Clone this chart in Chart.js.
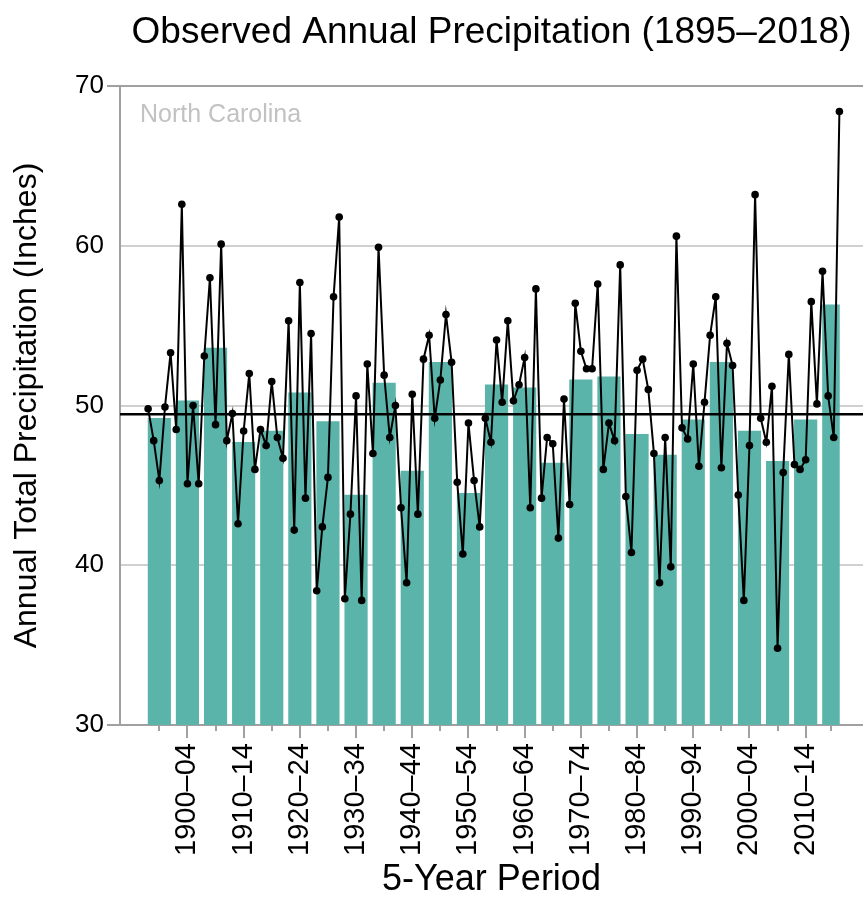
<!DOCTYPE html>
<html>
<head>
<meta charset="utf-8">
<title>Observed Annual Precipitation</title>
<script src="https://cdn.jsdelivr.net/npm/chart.js@4.4.1/dist/chart.umd.min.js"></script>
<style>
  html, body { margin: 0; padding: 0; background: #fff; }
  canvas { display: block; }
</style>
</head>
<body>
<canvas id="precipChart" width="863" height="902"></canvas>
<script>
// annual totals, inches, 1895 onwards
const firstYear = 1895;
const annualPrecip = [
  49.8, 47.8, 45.3, 49.9, 53.3,
  48.5, 62.6, 45.1, 50.0, 45.1,
  53.1, 58.0, 48.8, 60.1, 47.8,
  49.5, 42.6, 48.4, 52.0, 46.0,
  48.5, 47.5, 51.5, 48.0, 46.7,
  55.3, 42.2, 57.7, 44.2, 54.5,
  38.4, 42.4, 45.5, 56.8, 61.8,
  37.9, 43.2, 50.6, 37.8, 52.6,
  47.0, 59.9, 51.9, 48.0, 50.0,
  43.6, 38.9, 50.7, 43.2, 52.9,
  54.4, 49.2, 51.6, 55.7, 52.7,
  45.2, 40.7, 48.9, 45.3, 42.4,
  49.2, 47.7, 54.1, 50.2, 55.3,
  50.3, 51.3, 53.0, 43.6, 57.3,
  44.2, 48.0, 47.6, 41.7, 50.4,
  43.8, 56.4, 53.4, 52.3, 52.3,
  57.6, 46.0, 48.9, 47.8, 58.8,
  44.3, 40.8, 52.2, 52.9, 51.0,
  47.0, 38.9, 48.0, 39.9, 60.6,
  48.6, 47.9, 52.6, 46.2, 50.2,
  54.4, 56.8, 46.1, 53.9, 52.5,
  44.4, 37.8, 47.5, 63.2, 49.2,
  47.7, 51.2, 34.8, 45.8, 53.2,
  46.3, 46.0, 46.6, 56.5, 50.1,
  58.4, 50.6, 48.0, 68.4
];

const periodLabels = [
  '1895–99', '1900–04', '1905–09', '1910–14', '1915–19',
  '1920–24', '1925–29', '1930–34', '1935–39', '1940–44',
  '1945–49', '1950–54', '1955–59', '1960–64', '1965–69',
  '1970–74', '1975–79', '1980–84', '1985–89', '1990–94',
  '1995–99', '2000–04', '2005–09', '2010–14', '2015–18'
];

const periodAvg = [
  49.2, 50.3, 53.6, 47.7, 48.4,
  50.8, 49.0, 44.4, 51.4, 45.9,
  52.7, 44.5, 51.3, 51.1, 46.4,
  51.6, 51.8, 48.2, 46.9, 49.1,
  52.7, 48.4, 46.5, 49.1, 56.3
];

const longTermAvg = 49.45;
const stateName = 'North Carolina';

const xMin = 1890, xMax = 2022.2;
const fontFamily = '"Liberation Sans", Arial, Helvetica, sans-serif';

const years = annualPrecip.map((v, i) => firstYear + i);

// each bar runs from the first to the last year of its period
const periodCentres = periodLabels.map(label => {
  const start = parseInt(label.slice(0, 4));
  const end = Math.floor(start / 100) * 100 + parseInt(label.slice(5));
  return (start + end) / 2;
});

const lastIdx = periodLabels.length - 1;
const fullBars = periodAvg.slice(0, lastIdx).map((v, i) => ({ x: periodCentres[i], y: v }));
const partBar = [{ x: periodCentres[lastIdx], y: periodAvg[lastIdx] }];

Chart.defaults.font.family = fontFamily;
Chart.defaults.color = '#000';

const edgeTick = v => v === 30 || v === 70;

const axisExtras = {
  id: 'axisExtras',
  afterDatasetsDraw(chart) {
    const { ctx, chartArea, scales: { x } } = chart;
    ctx.save();
    ctx.strokeStyle = '#a0a0a0';
    ctx.lineWidth = 2;
    x.ticks.forEach((t, i) => {
      const px = Math.round(x.getPixelForValue(t.value));
      const len = i % 2 === 1 ? 13 : 6;
      ctx.beginPath();
      ctx.moveTo(px, chartArea.bottom);
      ctx.lineTo(px, chartArea.bottom + len);
      ctx.stroke();
    });
    ctx.fillStyle = '#c2c2c2';
    ctx.font = '25px ' + fontFamily;
    ctx.textBaseline = 'alphabetic';
    ctx.fillText(stateName, chartArea.left + 20, chartArea.top + 36);
    ctx.restore();
  }
};

new Chart(document.getElementById('precipChart'), {
  type: 'bar',
  data: {
    datasets: [
      {
        type: 'line',
        label: 'Annual',
        data: annualPrecip.map((v, i) => ({ x: years[i], y: v })),
        borderColor: '#000',
        borderWidth: 2,
        pointRadius: 3.8,
        pointBackgroundColor: '#000',
        pointBorderWidth: 0,
        tension: 0,
        order: 0
      },
      {
        type: 'line',
        label: 'Long-term average',
        data: [{ x: xMin, y: longTermAvg }, { x: xMax, y: longTermAvg }],
        borderColor: '#000',
        borderWidth: 2.5,
        pointRadius: 0,
        order: 1
      },
      {
        label: '5-year average',
        data: fullBars,
        backgroundColor: '#5ab4aa',
        barThickness: 22.5,
        grouped: false,
        order: 2
      },
      {
        label: '5-year average (partial)',
        data: partBar,
        backgroundColor: '#5ab4aa',
        barThickness: 16.9,
        grouped: false,
        order: 3
      }
    ]
  },
  options: {
    responsive: false,
    devicePixelRatio: 1,
    animation: false,
    layout: { padding: 0, autoPadding: false },
    plugins: {
      legend: { display: false },
      tooltip: { enabled: false },
      title: {
        display: true,
        fullSize: false,
        text: 'Observed Annual Precipitation (1895–2018)',
        color: '#000',
        font: { size: 37, weight: 'normal' },
        padding: { top: 11, bottom: 30.6 }
      }
    },
    scales: {
      x: {
        type: 'linear',
        offset: false,
        min: xMin,
        max: xMax,
        afterBuildTicks: scale => {
          scale.ticks = periodCentres.map(v => ({ value: v }));
        },
        afterFit: scale => {
          scale.height = 177;
          // the rotated labels sit well inside the plot, so no side padding
          scale.paddingLeft = 0;
          scale.paddingRight = 0;
        },
        grid: { display: false, drawTicks: false },
        border: { display: false },
        ticks: {
          autoSkip: false,
          minRotation: 90,
          maxRotation: 90,
          padding: 18,
          font: { size: 29 },
          callback: (val, i) => (i % 2 === 1 ? periodLabels[i] : '')
        },
        title: {
          display: true,
          text: '5-Year Period',
          font: { size: 36 },
          padding: { top: 0, bottom: 0 }
        }
      },
      y: {
        min: 30,
        max: 70,
        afterFit: scale => { scale.width = 120; },
        ticks: { stepSize: 10, font: { size: 26 }, padding: 3 },
        grid: {
          lineWidth: 2,
          tickLength: 13,
          color: c => (edgeTick(c.tick.value) ? '#a0a0a0' : '#d0d0d0'),
          tickColor: c => (edgeTick(c.tick.value) ? '#a0a0a0' : 'rgba(0,0,0,0)')
        },
        border: { color: '#a0a0a0', width: 2 },
        title: {
          display: true,
          text: 'Annual Total Precipitation (Inches)',
          font: { size: 32 },
          padding: { top: 8, bottom: 0 }
        }
      }
    }
  },
  plugins: [axisExtras]
});
</script>
</body>
</html>
